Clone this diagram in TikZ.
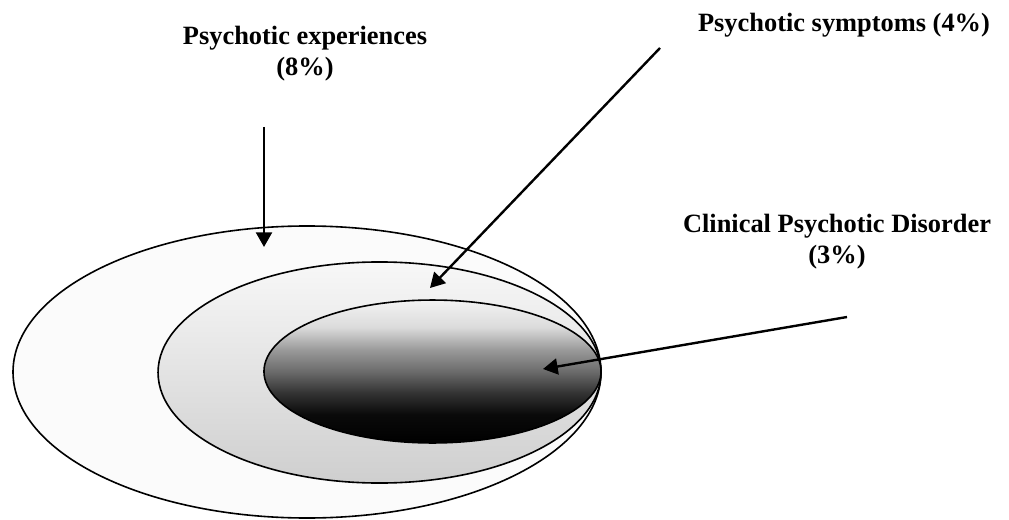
\documentclass[tikz,border=0pt]{standalone}
\usepackage{fontspec}
\setmainfont{Liberation Serif}
\usetikzlibrary{arrows.meta}

% vertical ramp for the innermost ring: pale at the top, black at the bottom
\pgfdeclareverticalshading{coreshade}{100bp}{%
  color(0bp)=(black);
  color(25bp)=(black);
  color(35bp)=(black!96);
  color(42.5bp)=(black!80);
  color(50bp)=(black!58);
  color(57.5bp)=(black!40);
  color(65.5bp)=(black!14);
  color(75bp)=(black!5);
  color(100bp)=(black!5)}

\newfontfamily\labelfont{Liberation Serif}

\begin{document}
\begin{tikzpicture}[x=0.75pt, y=-0.75pt,
  ring/.style={draw=black, line width=1.2pt},
  pointer/.style={line width=1.8pt, -{Triangle[length=11pt, width=12pt]}},
  caption/.style={font=\labelfont\bfseries\fontsize{19.8}{23}\selectfont,
                  anchor=base, inner sep=0pt}]

  \useasboundingbox (0,0) rectangle (1009,520);

  % nested rings, largest first
  \path[ring, fill=black!1.5]
    (307,372) ellipse [x radius=220.5pt, y radius=109.5pt];
  \path[ring, top color=black!3, bottom color=black!19]
    (379.5,372.5) ellipse [x radius=166.1pt, y radius=82.9pt];
  \path[ring, shading=coreshade]
    (432.5,371.5) ellipse [x radius=126.4pt, y radius=53.6pt];

  % labels
  \node[caption] (expA) at (305,45) {Psychotic experiences};
  \node[caption] (expB) at (305,76) {(8\%)};
  \node[caption] (sym)  at (844,32) {Psychotic symptoms (4\%)};
  \node[caption] (cpdA) at (837,233) {Clinical Psychotic Disorder};
  \node[caption] (cpdB) at (837,263) {(3\%)};

  % pointer ends
  \coordinate (expTail) at (264,127);
  \coordinate (expTip)  at (264,247);
  \coordinate (symTail) at (660,48);
  \coordinate (symTip)  at (430,288);
  \coordinate (cpdTail) at (847,317);
  \coordinate (cpdTip)  at (543,369);

  \draw[pointer] (expTail) -- (expTip);
  \draw[pointer] (symTail) -- (symTip);
  \draw[pointer] (cpdTail) -- (cpdTip);
\end{tikzpicture}
\end{document}
